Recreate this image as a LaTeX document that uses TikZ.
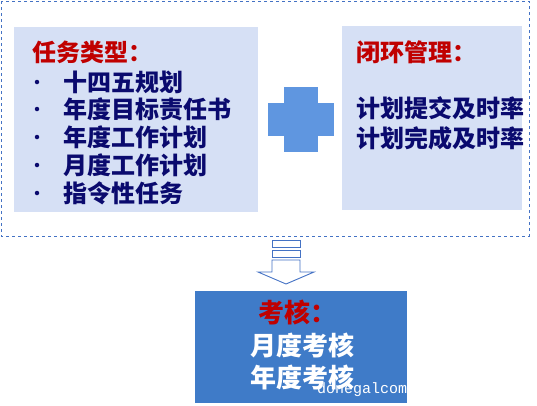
\documentclass[tikz,border=0pt]{standalone}
\usepackage{fontspec}
\setmainfont{Noto Sans CJK SC}
\newfontfamily\wmfont{Liberation Mono}
\definecolor{boxfill}{HTML}{D6E0F5}
\definecolor{navy}{HTML}{0A0A6E}
\definecolor{redt}{HTML}{C00000}
\definecolor{plusblue}{HTML}{5F96E0}
\definecolor{darkbox}{HTML}{3F7BC8}
\definecolor{dashb}{HTML}{4472C4}
\begin{document}
\begin{tikzpicture}[x=1pt,y=-1pt,
  lightbox/.style={fill=boxfill,draw=none},
  title/.style={anchor=west,inner sep=0pt,font=\fontsize{24}{24}\selectfont\bfseries,text=redt},
  item/.style={anchor=west,inner sep=0pt,font=\fontsize{24}{24}\selectfont\bfseries,text=navy},
  bul/.style={circle,fill=navy,inner sep=0pt,minimum size=4.5pt},
  btext/.style={anchor=center,inner sep=0pt,font=\fontsize{26}{26}\selectfont\bfseries,text=white}]
\useasboundingbox (0,0) rectangle (537,405);
% outer dashed frame
\draw[dashb,dashed,line width=0.8pt] (1,1) rectangle (529,236);
% left box
\fill[lightbox] (14,27) rectangle (258,212);
\node[title] (t1) at (32,52) {任务类型：};
\foreach \y/\t [count=\i] in {82/十四五规划,109/年度目标责任书,137/年度工作计划,165/月度工作计划,193/指令性任务}{
  \node[bul] (b\i) at (37,\y) {};
  \node[item] (l\i) at (63,\y) {\t};
}
% plus sign
\fill[plusblue] (284,87) rectangle (318,152);
\fill[plusblue] (268,103) rectangle (334,136);
% right box
\fill[lightbox] (342,26) rectangle (522,210);
\node[title] (t2) at (356,52) {闭环管理：};
\node[item] (r1) at (356,108) {计划提交及时率};
\node[item] (r2) at (356,138) {计划完成及时率};
% block arrow
\begin{scope}[dashb,line width=0.9pt]
\draw (272,240) rectangle (300,247);
\draw (272,250) rectangle (300,257);
\draw (272,260) -- (272,272) -- (258,272) -- (286,284) -- (314,272) -- (300,272) -- (300,260) -- cycle;
\end{scope}
% bottom box
\fill[darkbox] (195,291) rectangle (407,403);
\node[btext,text=redt] (k0) at (297,312) {考核：};
\node[btext] (k1) at (302,345) {月度考核};
\node[btext] (k2) at (302,377) {年度考核};
\node[anchor=west,inner sep=0pt,font=\wmfont\fontsize{15}{15}\selectfont,text=white] (wm) at (317,390) {donegalcom};
\end{tikzpicture}
\end{document}
